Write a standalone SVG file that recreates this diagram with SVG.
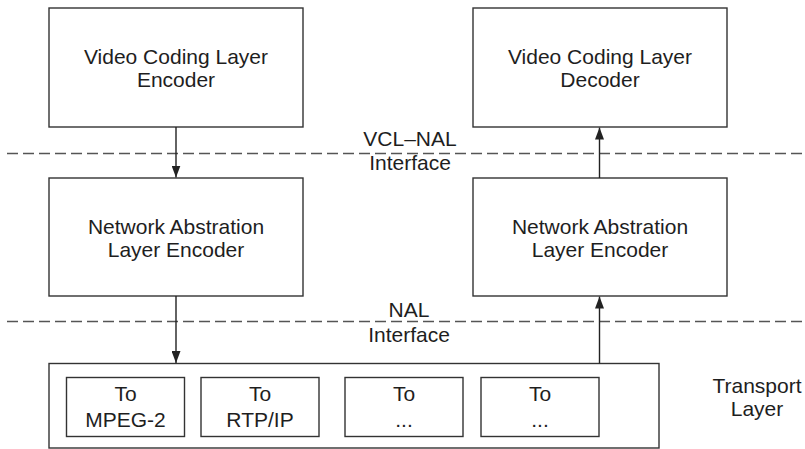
<svg xmlns="http://www.w3.org/2000/svg" width="805" height="449" viewBox="0 0 805 449">
  <style>
    .box { fill: #ffffff; stroke: #333333; stroke-width: 1.4; }
    .lbl { font-family: "Liberation Sans", Arial, sans-serif; font-size: 21px; fill: #1e1e1e; text-anchor: middle; }
    .dash { stroke: #555555; stroke-width: 1.6; stroke-dasharray: 11 5; fill: none; }
    .link { stroke: #222222; stroke-width: 1.4; fill: none; }
  </style>
  <defs>
    <marker id="head" viewBox="0 0 12 9" refX="12" refY="4.5" markerWidth="12" markerHeight="9" markerUnits="userSpaceOnUse" orient="auto">
      <path d="M0,0 L12,4.5 L0,9 Z" fill="#222222"/>
    </marker>
  </defs>
  <rect width="805" height="449" fill="#ffffff"/>

  <!-- interface boundaries -->
  <g id="interfaces">
    <line class="dash" x1="7" y1="153.5" x2="805" y2="153.5"/>
    <line class="dash" x1="7" y1="321.5" x2="805" y2="321.5"/>
    <text class="lbl" x="410" y="146">VCL–NAL</text>
    <text class="lbl" x="410" y="170">Interface</text>
    <text class="lbl" x="409" y="317">NAL</text>
    <text class="lbl" x="409" y="342">Interface</text>
  </g>

  <g id="vcl-encoder">
    <rect class="box" x="49" y="8" width="254" height="119"/>
    <text class="lbl" x="176" y="64">Video Coding Layer</text>
    <text class="lbl" x="176" y="87">Encoder</text>
  </g>

  <g id="vcl-decoder">
    <rect class="box" x="473" y="8" width="254" height="119"/>
    <text class="lbl" x="600" y="64">Video Coding Layer</text>
    <text class="lbl" x="600" y="87">Decoder</text>
  </g>

  <g id="nal-encoder-left">
    <rect class="box" x="49" y="178" width="254" height="118"/>
    <text class="lbl" x="176" y="234">Network Abstration</text>
    <text class="lbl" x="176" y="257">Layer Encoder</text>
  </g>

  <g id="nal-encoder-right">
    <rect class="box" x="473" y="178" width="254" height="118"/>
    <text class="lbl" x="600" y="234">Network Abstration</text>
    <text class="lbl" x="600" y="257">Layer Encoder</text>
  </g>

  <g id="transport">
    <rect class="box" x="49" y="363.5" width="610" height="84.5"/>
    <g id="to-mpeg2">
      <rect class="box" x="66.5" y="377.5" width="118" height="59"/>
      <text class="lbl" x="125.5" y="401">To</text>
      <text class="lbl" x="125.5" y="427">MPEG-2</text>
    </g>
    <g id="to-rtp">
      <rect class="box" x="201" y="377.5" width="118" height="59"/>
      <text class="lbl" x="260" y="401">To</text>
      <text class="lbl" x="260" y="427">RTP/IP</text>
    </g>
    <g id="to-other-1">
      <rect class="box" x="345" y="377.5" width="118" height="59"/>
      <text class="lbl" x="404" y="401">To</text>
      <text class="lbl" x="404" y="427">...</text>
    </g>
    <g id="to-other-2">
      <rect class="box" x="481" y="377.5" width="118" height="59"/>
      <text class="lbl" x="540" y="401">To</text>
      <text class="lbl" x="540" y="427">...</text>
    </g>
  </g>

  <g id="transport-label">
    <text class="lbl" x="757" y="393">Transport</text>
    <text class="lbl" x="757" y="416">Layer</text>
  </g>

  <g id="connectors">
    <line class="link" x1="176" y1="127" x2="176" y2="177.5" marker-end="url(#head)"/>
    <line class="link" x1="176" y1="296" x2="176" y2="363" marker-end="url(#head)"/>
    <line class="link" x1="599.5" y1="363.5" x2="599.5" y2="296.5" marker-end="url(#head)"/>
    <line class="link" x1="599.5" y1="178" x2="599.5" y2="127.5" marker-end="url(#head)"/>
  </g>
</svg>
